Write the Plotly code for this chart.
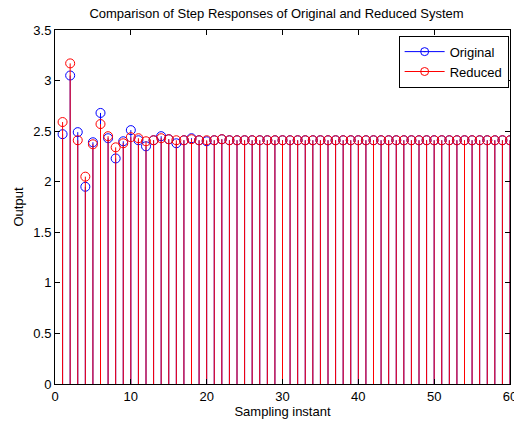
import plotly.graph_objects as go

# Sampling instants
k = list(range(1, 61))

# Step response of the original system
original = [2.47, 3.05, 2.49, 1.95, 2.39, 2.68, 2.43, 2.23, 2.40, 2.51,
            2.41, 2.35, 2.41, 2.45, 2.42, 2.38, 2.41, 2.43, 2.41, 2.40,
            2.41, 2.42, 2.41, 2.41, 2.41, 2.41, 2.41, 2.41, 2.41, 2.41,
            2.41, 2.41, 2.41, 2.41, 2.41, 2.41, 2.41, 2.41, 2.41, 2.41,
            2.41, 2.41, 2.41, 2.41, 2.41, 2.41, 2.41, 2.41, 2.41, 2.41,
            2.41, 2.41, 2.41, 2.41, 2.41, 2.41, 2.41, 2.41, 2.41, 2.41]

# Step response of the reduced-order system
reduced = [2.59, 3.17, 2.41, 2.05, 2.37, 2.57, 2.45, 2.34, 2.38, 2.44,
           2.43, 2.40, 2.41, 2.43, 2.42, 2.41, 2.41, 2.42, 2.41, 2.41,
           2.41, 2.42, 2.41, 2.41, 2.41, 2.41, 2.41, 2.41, 2.41, 2.41,
           2.41, 2.41, 2.41, 2.41, 2.41, 2.41, 2.41, 2.41, 2.41, 2.41,
           2.41, 2.41, 2.41, 2.41, 2.41, 2.41, 2.41, 2.41, 2.41, 2.41,
           2.41, 2.41, 2.41, 2.41, 2.41, 2.41, 2.41, 2.41, 2.41, 2.41]

series = [("Original", original, "#0000ff"), ("Reduced", reduced, "#ff0000")]

FONT = "Liberation Sans, Arial, sans-serif"

fig = go.Figure()

for name, vals, color in series:
    # vertical stems from zero to each sample
    sx, sy = [], []
    for xi, yi in zip(k, vals):
        sx += [xi, xi, None]
        sy += [0, yi, None]
    fig.add_trace(go.Scatter(x=sx, y=sy, mode="lines",
                             line=dict(color=color, width=1),
                             showlegend=False, hoverinfo="skip"))
    # open circle heads
    fig.add_trace(go.Scatter(x=k, y=vals, mode="markers",
                             marker=dict(symbol="circle-open", size=9,
                                         color=color, line=dict(width=1)),
                             showlegend=False, name=name))
    # legend entry: line with circle marker
    fig.add_trace(go.Scatter(x=[None], y=[None], mode="lines+markers",
                             line=dict(color=color, width=1),
                             marker=dict(symbol="circle-open-dot", size=8,
                                         color=color, line=dict(width=1)),
                             name=name))

fig.update_layout(
    width=514, height=425,
    margin=dict(l=55, r=4, t=30, b=41, autoexpand=False),
    paper_bgcolor="white", plot_bgcolor="white",
    font=dict(family=FONT, size=13, color="black"),
    title=dict(text="Comparison of Step Responses of Original and Reduced System",
               x=0.538, xanchor="center", y=0.969, yanchor="middle",
               font=dict(size=13)),
    legend=dict(x=0.997, y=0.984, xanchor="right", yanchor="top",
                bgcolor="white", bordercolor="black", borderwidth=1,
                font=dict(size=13), tracegroupgap=0, itemwidth=40),
    showlegend=True,
)

fig.update_xaxes(range=[0, 60], tickvals=[0, 10, 20, 30, 40, 50, 60],
                 ticks="inside", ticklen=5, tickcolor="black",
                 ticklabeloverflow="allow", automargin=False,
                 showline=True, linecolor="black", linewidth=1,
                 mirror="allticks", showgrid=False, zeroline=False,
                 title=dict(text="Sampling instant", standoff=3,
                            font=dict(size=13)))
fig.update_yaxes(range=[0, 3.5],
                 tickvals=[0, 0.5, 1, 1.5, 2, 2.5, 3, 3.5],
                 ticktext=["0", "0.5", "1", "1.5", "2", "2.5", "3", "3.5"],
                 ticks="inside", ticklen=5, tickcolor="black",
                 showline=True, linecolor="black", linewidth=1,
                 mirror="allticks", showgrid=False, zeroline=False,
                 automargin=False,
                 title=dict(text="Output", standoff=6, font=dict(size=13)))

fig.write_html("out.html")
